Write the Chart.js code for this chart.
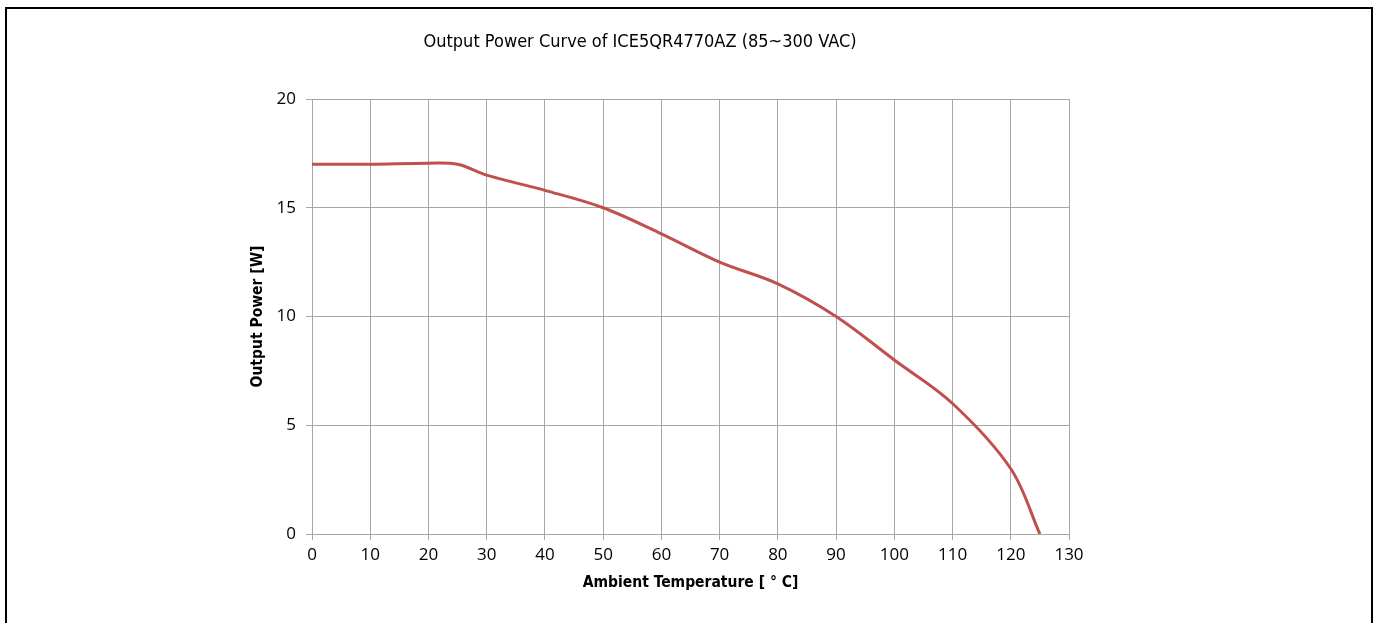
<!DOCTYPE html>
<html>
<head>
<meta charset="utf-8">
<script src="https://cdn.jsdelivr.net/npm/chart.js@4/dist/chart.umd.min.js"></script>
<style>
  html, body { margin: 0; padding: 0; background: #fff; overflow: hidden; }
  #frame { position: absolute; left: 5px; top: 7px; width: 1364px; height: 700px; border: 2px solid #000; border-bottom: none; }
  #wrap { position: absolute; left: 0; top: 0; width: 1373px; height: 623px; }
</style>
</head>
<body>
<div id="frame"></div>
<div id="wrap"><canvas id="chart" width="1373" height="623"></canvas></div>
<script>
// values
const temperatures = [0, 10, 20, 25, 30, 40, 50, 60, 70, 80, 90, 100, 110, 120, 125];
const outputPower = [17.0, 17.0, 17.05, 17.0, 16.5, 15.8, 15.0, 13.8, 12.5, 11.5, 10.0, 8.0, 6.0, 3.0, 0.0];
const xTicks = [0, 10, 20, 30, 40, 50, 60, 70, 80, 90, 100, 110, 120, 130];
const yTicks = [0, 5, 10, 15, 20];

const chartTitle = 'Output Power Curve of ICE5QR4770AZ (85~300 VAC)';
const gridColor = '#a6a6a6';
const narrow = '"DejaVu Sans Condensed", "Liberation Sans Narrow", Arial, sans-serif';

// main title is centred on the page, not on the plot area
const titlePlugin = {
  id: 'pageTitle',
  afterDraw(chart) {
    const ctx = chart.ctx;
    ctx.save();
    ctx.font = '18px ' + narrow;
    ctx.fillStyle = '#000';
    ctx.textAlign = 'center';
    ctx.textBaseline = 'middle';
    ctx.fillText(chartTitle, 640, 42);
    ctx.restore();
  }
};

const ctx = document.getElementById('chart').getContext('2d');
new Chart(ctx, {
  type: 'line',
  data: {
    datasets: [{
      data: temperatures.map((t, i) => ({ x: t, y: outputPower[i] })),
      borderColor: '#c0504d',
      borderWidth: 3,
      pointRadius: 0,
      tension: 0.35,
      fill: false
    }]
  },
  options: {
    responsive: false,
    animation: false,
    layout: { padding: { left: 241, right: 304, top: 99, bottom: 0 } },
    plugins: {
      legend: { display: false },
      title: { display: false },
      tooltip: { enabled: false }
    },
    scales: {
      x: {
        type: 'linear',
        min: 0,
        max: 130,
        afterBuildTicks: (s) => { s.ticks = xTicks.map(v => ({ value: v })); },
        afterFit: (s) => { s.height = 89; },
        grid: { color: gridColor, tickLength: 6 },
        border: { color: gridColor },
        ticks: { color: '#000', padding: 5, maxRotation: 0, font: { family: 'Open Sans', size: 17 } },
        title: {
          display: true,
          text: 'Ambient Temperature [ ° C]',
          color: '#000',
          font: { family: narrow, size: 15.5, weight: 'bold' },
          padding: { top: 0, bottom: 31 }
        }
      },
      y: {
        min: 0,
        max: 20,
        afterBuildTicks: (s) => { s.ticks = yTicks.map(v => ({ value: v })); },
        afterFit: (s) => { s.width = 71; },
        grid: { color: gridColor, tickLength: 6 },
        border: { color: gridColor },
        ticks: { color: '#000', padding: 10, font: { family: 'Open Sans', size: 17 } },
        title: {
          display: true,
          text: 'Output Power [W]',
          color: '#000',
          font: { family: narrow, size: 15.5, weight: 'bold' },
          padding: { top: 8, bottom: 0 }
        }
      }
    }
  },
  plugins: [titlePlugin]
});
</script>
</body>
</html>
